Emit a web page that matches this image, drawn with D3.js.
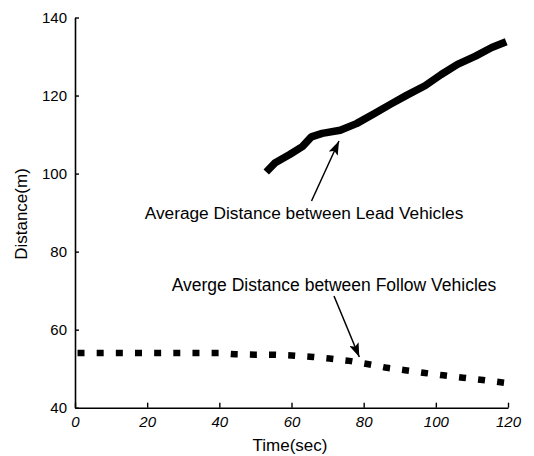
<!DOCTYPE html>
<html>
<head>
<meta charset="utf-8">
<script src="https://cdn.jsdelivr.net/npm/d3@7/dist/d3.min.js"></script>
<style>
  html, body { margin: 0; padding: 0; background: #fff; }
  svg { display: block; }
  text { font-family: "Liberation Sans", Arial, Helvetica, sans-serif; fill: #000; }
</style>
</head>
<body>
<svg id="chart" width="534" height="456"></svg>
<script>
// Average spacing between lead vehicles (solid line)
const leadTime = [53, 55.5, 59.5, 63, 65.5, 68.5, 73.5, 78, 83, 87.5, 92, 97, 101.5, 106, 111, 115.5, 119.5];
const leadDist = [100.4, 102.8, 104.9, 106.9, 109.4, 110.3, 111.1, 112.8, 115.4, 117.8, 120.1, 122.5, 125.4, 128.0, 130.1, 132.3, 133.8];

// Average spacing between follow vehicles (dotted line)
const followTime = [0.7, 10, 20, 30, 40, 44.5, 50, 55, 60, 66, 70.5, 76, 81, 86, 91.5, 97, 102, 107.5, 113, 118.9];
const followDist = [54.0, 54.0, 54.0, 54.0, 54.0, 53.7, 53.6, 53.6, 53.4, 53.0, 52.6, 52.0, 51.2, 50.3, 49.6, 48.9, 48.3, 47.7, 47.1, 46.4];

// Axis ticks
const xTicks = [0, 20, 40, 60, 80, 100, 120];
const yTicks = [40, 60, 80, 100, 120, 140];

const xLabel = "Time(sec)";
const yLabel = "Distance(m)";
const leadNote = "Average Distance between Lead Vehicles";
const followNote = "Averge Distance between Follow Vehicles";

const svg = d3.select("#chart");
const x = d3.scaleLinear().domain([0, 120]).range([75, 508]);
const y = d3.scaleLinear().domain([40, 140]).range([407.7, 17.5]);

// Axes: ticks point inward, no frame
const xAxis = svg.append("g")
  .attr("transform", `translate(0,${y(40)})`)
  .call(d3.axisBottom(x).tickValues(xTicks).tickSizeInner(-5).tickSizeOuter(0).tickPadding(9));
xAxis.select(".domain").attr("stroke", "#000").attr("stroke-width", 1.6);
xAxis.selectAll(".tick line").attr("stroke", "#000").attr("stroke-width", 1.4);
xAxis.selectAll(".tick text")
  .attr("font-size", 15).attr("font-style", "italic")
  .attr("font-family", "Liberation Sans, Arial, sans-serif")
  .attr("fill", "#000");

const yAxis = svg.append("g")
  .attr("transform", `translate(${x(0)},0)`)
  .call(d3.axisLeft(y).tickValues(yTicks).tickSizeInner(-4).tickSizeOuter(0).tickPadding(8));
yAxis.select(".domain").attr("stroke", "#000").attr("stroke-width", 1.6);
yAxis.selectAll(".tick line").attr("stroke", "#000").attr("stroke-width", 1.4);
yAxis.selectAll(".tick text")
  .attr("font-size", 15)
  .attr("font-family", "Liberation Sans, Arial, sans-serif")
  .attr("fill", "#000");

// Axis titles
svg.append("text")
  .attr("x", 290).attr("y", 451)
  .attr("text-anchor", "middle").attr("font-size", 17)
  .text(xLabel);
svg.append("text")
  .attr("transform", `translate(26.5,214) rotate(-90)`)
  .attr("text-anchor", "middle").attr("font-size", 17)
  .text(yLabel);

// Series lines
const line = d3.line().x(d => x(d[0])).y(d => y(d[1])).curve(d3.curveLinear);

svg.append("path")
  .datum(leadTime.map((t, i) => [t, leadDist[i]]))
  .attr("d", line)
  .attr("fill", "none").attr("stroke", "#000")
  .attr("stroke-width", 7.5).attr("stroke-linejoin", "round").attr("stroke-linecap", "butt");

const followPath = svg.append("path")
  .datum(followTime.map((t, i) => [t, followDist[i]]))
  .attr("d", line)
  .attr("fill", "none").attr("stroke", "#000")
  .attr("stroke-width", 6.5)
  .attr("stroke-linecap", "butt");

// Spread the dots evenly so the path begins and ends on a full dot
const dotLen = 7, dotCount = 23;
const pathLen = followPath.node().getTotalLength();
const gapLen = (pathLen - dotCount * dotLen) / (dotCount - 1);
followPath.attr("stroke-dasharray", `${dotLen},${gapLen}`);

// Annotations with arrows
const defs = svg.append("defs");
defs.append("marker")
  .attr("id", "head").attr("viewBox", "0 0 14 10")
  .attr("refX", 14).attr("refY", 5)
  .attr("markerWidth", 14).attr("markerHeight", 10)
  .attr("markerUnits", "userSpaceOnUse").attr("orient", "auto")
  .append("path").attr("d", "M0,0 L14,5 L0,10 L3,5 Z").attr("fill", "#000");

svg.append("text")
  .attr("x", 304).attr("y", 219)
  .attr("text-anchor", "middle").attr("font-size", 17.3)
  .text(leadNote);
svg.append("line")
  .attr("x1", 311.5).attr("y1", 201).attr("x2", 339).attr("y2", 141)
  .attr("stroke", "#000").attr("stroke-width", 1.5).attr("marker-end", "url(#head)");

svg.append("text")
  .attr("x", 334).attr("y", 291)
  .attr("text-anchor", "middle").attr("font-size", 17.5)
  .text(followNote);
svg.append("line")
  .attr("x1", 334).attr("y1", 296).attr("x2", 359.3).attr("y2", 357)
  .attr("stroke", "#000").attr("stroke-width", 1.5).attr("marker-end", "url(#head)");
</script>
</body>
</html>
